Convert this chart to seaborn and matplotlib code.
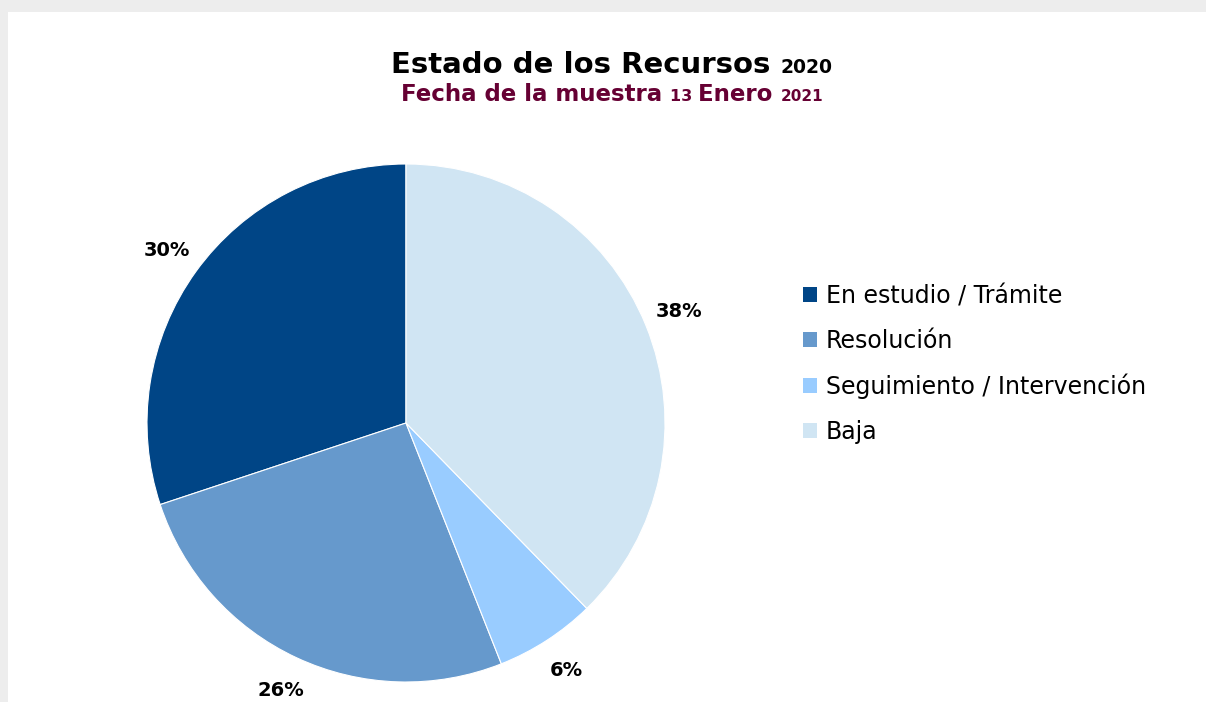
import matplotlib
matplotlib.use("Agg")
import matplotlib.pyplot as plt
import seaborn as sns
from matplotlib.patches import Patch, Rectangle

# data
categories = ["En estudio / Trámite", "Resolución", "Seguimiento / Intervención", "Baja"]
shares = [30.1, 25.9, 6.3, 37.7]
colors = ["#004586", "#6699CC", "#99CCFF", "#D0E5F3"]

title_parts = [("Estado de los Recursos ", 21), ("2020", 13.5)]
subtitle_parts = [("Fecha de la muestra ", 16.5), ("13 ", 11.5), ("Enero ", 16.5), ("2021", 11)]

sns.set_theme(style="white")
plt.rcParams["font.family"] = ["DejaVu Sans"]
plt.rcParams["text.color"] = "black"

W, H = 1206, 702
fig = plt.figure(figsize=(W / 100, H / 100), dpi=100, facecolor="#EDEDED")
fig.add_artist(Rectangle((8 / W, 0), 1, 1 - 12 / H, transform=fig.transFigure,
                         facecolor="white", edgecolor="none", zorder=-1))

# pie: center (406, 423), radius 259 px
r = 259
ax = fig.add_axes([(406 - r) / W, (H - 423 - r) / H, 2 * r / W, 2 * r / H])
wedges, _, autotexts = ax.pie(shares, colors=colors, startangle=90, counterclock=True,
                              autopct="%1.0f%%", pctdistance=1.14, radius=1,
                              wedgeprops=dict(edgecolor="white", linewidth=0.8))
for t in autotexts:
    t.set_fontsize(14)
    t.set_fontweight("bold")
    t.set_color("black")
ax.set_xlim(-1, 1)
ax.set_ylim(-1, 1)
ax.set_aspect("equal")
ax.axis("off")

# legend
handles = [Patch(facecolor=c, edgecolor="none") for c in colors]
leg = fig.legend(handles, categories, loc="center left", bbox_to_anchor=(782 / W, 1 - 364 / H),
                 frameon=False, prop={"size": 17},
                 handlelength=0.6, handleheight=0.6, handletextpad=0.35, labelspacing=0.88)
for t in leg.get_texts():
    t.set_color("black")


def draw_mixed(parts, cx, y, color):
    renderer = fig.canvas.get_renderer()
    texts = []
    for s, size in parts:
        t = fig.text(0, y, s, fontsize=size, fontweight="bold", color=color,
                     va="baseline", ha="left")
        texts.append(t)
    widths = [t.get_window_extent(renderer).width for t in texts]
    x = cx * W - sum(widths) / 2
    for t, w in zip(texts, widths):
        t.set_x(x / W)
        x += w


draw_mixed(title_parts, 612 / W, 1 - 73 / H, "black")
draw_mixed(subtitle_parts, 612 / W, 1 - 101 / H, "#660033")

fig.savefig("out.png", dpi=100, facecolor=fig.get_facecolor())
